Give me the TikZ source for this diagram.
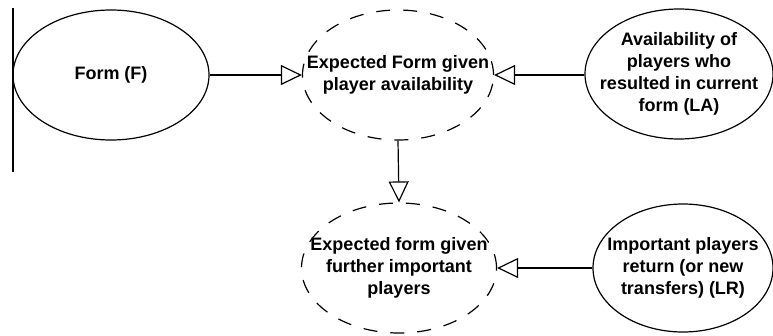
\documentclass[tikz,border=0pt]{standalone}
\usepackage{fontspec}
\setmainfont{Liberation Sans}
\usetikzlibrary{shapes.geometric,arrows.meta}
\begin{document}
\begin{tikzpicture}[x=1pt,y=-1pt,
  lbl/.style={align=center,inner sep=0pt,font=\bfseries\fontsize{18}{22}\selectfont},
  oval/.style={ellipse,draw,line width=1.2pt,inner sep=0pt},
  dashoval/.style={oval,dash pattern=on 14pt off 13pt},
  conn/.style={line width=1.2pt,-{Triangle[open,length=21pt,width=20pt,line width=1.2pt]}}]
\useasboundingbox (0,0) rectangle (773,335);
\node[oval,minimum width=196pt,minimum height=130pt,label={[lbl]center:Form (F)}] (F) at (111,75) {};
\node[dashoval,minimum width=191pt,minimum height=130pt,label={[lbl]center:Expected Form given\\player availability}] (E1) at (398,75) {};
\node[oval,minimum width=188pt,minimum height=130pt,label={[lbl]center:Availability of\\players who\\resulted in current\\form (LA)}] (LA) at (679,74) {};
\node[dashoval,minimum width=195pt,minimum height=130pt,label={[lbl]center:Expected form given\\further important\\players}] (E2) at (399,268) {};
\node[oval,minimum width=180pt,minimum height=128pt,label={[lbl]center:Important players\\return (or new\\transfers) (LR)}] (LR) at (683,268) {};
\coordinate (L1) at (13,8);
\coordinate (L2) at (13,172);
\draw[line width=1.2pt] (L1) -- (L2);
\draw[conn] (F.east) -- (E1.west);
\draw[conn] (LA.west |- E1.east) -- (E1.east);
\draw[conn] (E1.south) -- (E2.north);
\draw[conn] (LR.west) -- (E2.east);
\end{tikzpicture}
\end{document}
